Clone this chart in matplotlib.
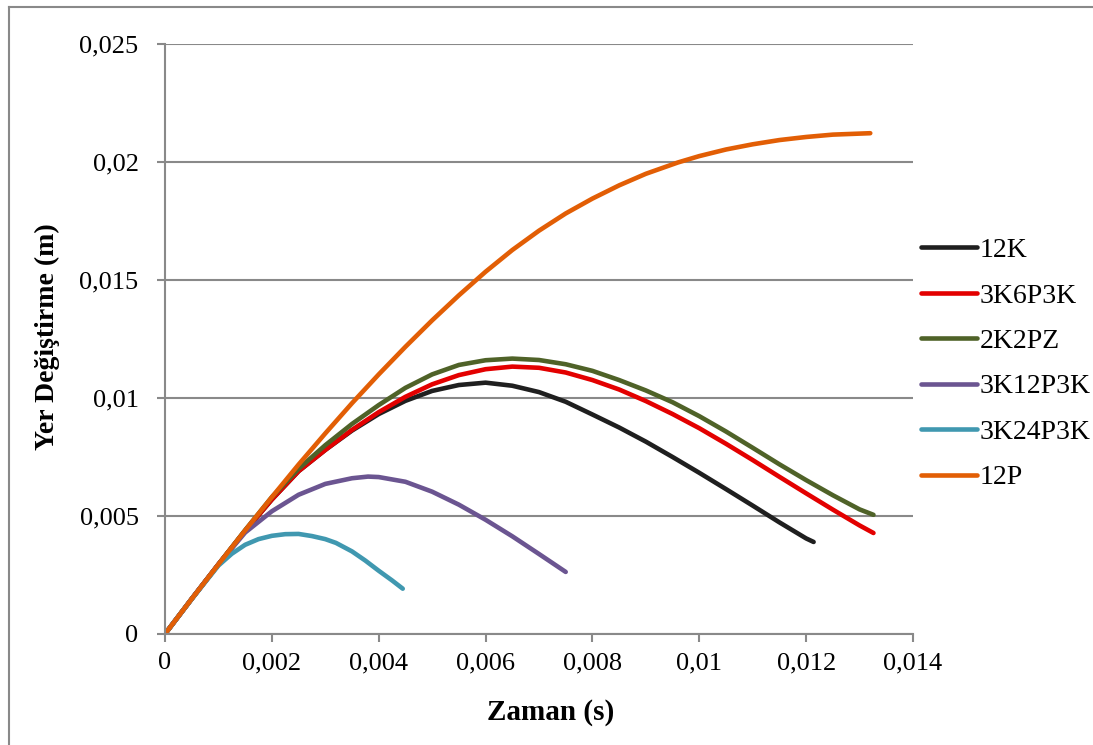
import numpy as np
import matplotlib
matplotlib.use("Agg")
import matplotlib.pyplot as plt
from matplotlib.lines import Line2D
from matplotlib.ticker import FuncFormatter

plt.rcParams['font.family'] = ['Liberation Serif', 'DejaVu Serif']

# values (time in s, displacement in m)
t_12k = [0, 0.0005, 0.001, 0.0015, 0.002, 0.0025, 0.003, 0.0035, 0.004, 0.0045, 0.005,
         0.0055, 0.006, 0.0065, 0.007, 0.0075, 0.008, 0.0085, 0.009, 0.0095, 0.01,
         0.0105, 0.011, 0.0115, 0.012, 0.01214]
y_12k = [0, 0.00149, 0.00295, 0.00437, 0.0057, 0.0069, 0.0078, 0.00862, 0.00932, 0.00988,
         0.0103, 0.01055, 0.01065, 0.01052, 0.01025, 0.00984, 0.0093, 0.00875, 0.00815,
         0.0075, 0.00683, 0.00614, 0.00544, 0.00473, 0.00405, 0.0039]

t_3k6 = [0, 0.0005, 0.001, 0.0015, 0.002, 0.0025, 0.003, 0.0035, 0.004, 0.0045, 0.005,
         0.0055, 0.006, 0.0065, 0.007, 0.0075, 0.008, 0.0085, 0.009, 0.0095, 0.01,
         0.0105, 0.011, 0.0115, 0.012, 0.0125, 0.013, 0.01326]
y_3k6 = [0, 0.00149, 0.00295, 0.00437, 0.0057, 0.0069, 0.0078, 0.00865, 0.0094, 0.01005,
         0.01058, 0.01097, 0.01122, 0.01133, 0.01128, 0.01108, 0.01076, 0.01036, 0.00987,
         0.00932, 0.00872, 0.00806, 0.00737, 0.00666, 0.00596, 0.00527, 0.0046, 0.00428]

t_2k2pz = [0, 0.0005, 0.001, 0.0015, 0.002, 0.0025, 0.003, 0.0035, 0.004, 0.0045, 0.005,
           0.0055, 0.006, 0.0065, 0.007, 0.0075, 0.008, 0.0085, 0.009, 0.0095, 0.01,
           0.0105, 0.011, 0.0115, 0.012, 0.0125, 0.013, 0.01326]
y_2k2pz = [0, 0.00149, 0.00295, 0.0044, 0.0058, 0.007, 0.008, 0.0089, 0.0097, 0.01043,
           0.011, 0.0114, 0.0116, 0.01167, 0.01161, 0.01143, 0.01115, 0.01076, 0.01032,
           0.00982, 0.00923, 0.00858, 0.00789, 0.00719, 0.00652, 0.00588, 0.00528, 0.00505]

t_3k12 = [0, 0.0005, 0.001, 0.0015, 0.002, 0.0025, 0.003, 0.0035, 0.0038, 0.004, 0.0045,
          0.005, 0.0055, 0.006, 0.0065, 0.007, 0.0075]
y_3k12 = [0, 0.00149, 0.00295, 0.0043, 0.0052, 0.0059, 0.00636, 0.0066, 0.00667, 0.00665,
          0.00645, 0.00603, 0.00548, 0.00484, 0.00414, 0.00339, 0.00263]

t_3k24 = [0, 0.0005, 0.001, 0.00125, 0.0015, 0.00175, 0.002, 0.00225, 0.0025, 0.00275,
          0.003, 0.0032, 0.0035, 0.00375, 0.004, 0.00425, 0.00445]
y_3k24 = [0, 0.00148, 0.0029, 0.0034, 0.00378, 0.00402, 0.00416, 0.00423, 0.00424, 0.00415,
          0.00402, 0.00386, 0.0035, 0.00311, 0.00268, 0.00227, 0.00192]

t_12p = [0, 0.0005, 0.001, 0.0015, 0.002, 0.0025, 0.003, 0.0035, 0.004, 0.0045, 0.005,
         0.0055, 0.006, 0.0065, 0.007, 0.0075, 0.008, 0.0085, 0.009, 0.0096, 0.01,
         0.0105, 0.011, 0.0115, 0.012, 0.0125, 0.0132]
y_12p = [0, 0.00149, 0.00295, 0.00439, 0.0058, 0.00718, 0.0085, 0.00978, 0.011, 0.01217,
         0.01329, 0.01435, 0.01535, 0.01627, 0.01709, 0.01782, 0.01845, 0.01901, 0.0195,
         0.01998, 0.02025, 0.02053, 0.02075, 0.02093, 0.02106, 0.02116, 0.02122]

series = [
    ("12K", t_12k, y_12k, "#1f1f1f"),
    ("3K6P3K", t_3k6, y_3k6, "#e30000"),
    ("2K2PZ", t_2k2pz, y_2k2pz, "#4f6228"),
    ("3K12P3K", t_3k12, y_3k12, "#6b5591"),
    ("3K24P3K", t_3k24, y_3k24, "#4098b0"),
    ("12P", t_12p, y_12p, "#e25e05"),
]

fig = plt.figure(figsize=(10.93, 7.45), dpi=100)
ax = fig.add_axes([165 / 1093, 1 - 634 / 745, 748 / 1093, 590 / 745])

grid_c = "#898989"
for name, t, y, c in series:
    ax.plot(t, y, color=c, lw=3.3, label=name, solid_capstyle="round",
            solid_joinstyle="round")

ax.set_xlim(0, 0.014)
ax.set_ylim(0, 0.025)
ax.set_xticks(np.arange(0, 0.0141, 0.002))
ax.set_yticks(np.arange(0, 0.0251, 0.005))


def comma_fmt(v, pos):
    s = f"{v:.3f}".rstrip("0").rstrip(".")
    if s == "":
        s = "0"
    return s.replace(".", ",")


ax.xaxis.set_major_formatter(FuncFormatter(comma_fmt))
ax.yaxis.set_major_formatter(FuncFormatter(comma_fmt))

ax.grid(axis="y", color=grid_c, lw=1.5)
ax.set_axisbelow(True)
for s in ["top", "right"]:
    ax.spines[s].set_visible(False)
for s in ["left", "bottom"]:
    ax.spines[s].set_color(grid_c)
    ax.spines[s].set_linewidth(1.5)
ax.tick_params(axis="both", colors=grid_c, labelcolor="black", labelsize=19,
               length=6, width=1.5)
ax.tick_params(axis="x", pad=7)
ax.tick_params(axis="y", pad=13)

ax.set_xlabel("Zaman (s)", fontsize=21, fontweight="bold")
ax.set_ylabel("Yer Değiştirme (m)", fontsize=20, fontweight="bold")
ax.xaxis.set_label_coords((551 - 165) / 748, -(712 - 634) / 590)
ax.xaxis.label.set_va("center")
ax.yaxis.set_label_coords(-(165 - 47) / 748, (634 - 337) / 590)
ax.yaxis.label.set_va("center")

ax.legend(loc="center left", bbox_to_anchor=(921 / 1093, 1 - 364 / 745),
          bbox_transform=fig.transFigure, frameon=False, fontsize=20,
          handlelength=2.0, handletextpad=0.12, labelspacing=0.72,
          borderaxespad=0, borderpad=0)

# outer chart frame (left and top edges visible)
fig.add_artist(Line2D([9 / 1093, 9 / 1093], [0, 1 - 7 / 745], color=grid_c, lw=1.5,
                      transform=fig.transFigure))
fig.add_artist(Line2D([9 / 1093, 1], [1 - 7 / 745, 1 - 7 / 745], color=grid_c, lw=1.5,
                      transform=fig.transFigure))

fig.savefig("out.png", dpi=100)
